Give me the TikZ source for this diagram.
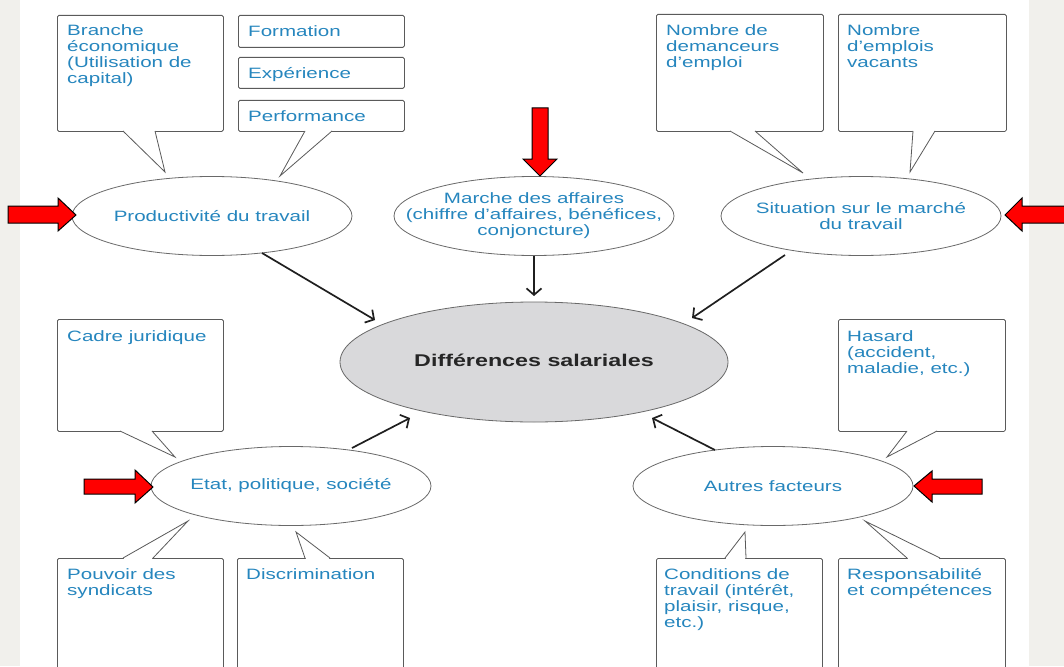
\documentclass[tikz,border=0pt]{standalone}
\usepackage{fontspec}
\setmainfont{Liberation Sans}
\newfontfamily\dfont[FakeStretch=1.37]{Liberation Sans}
\usetikzlibrary{shapes.geometric,arrows.meta}
\definecolor{bgside}{RGB}{241,240,236}
\definecolor{txtblue}{RGB}{38,134,190}
\definecolor{boxgray}{RGB}{90,90,90}
\definecolor{ellgray}{RGB}{105,105,105}
\definecolor{centerfill}{RGB}{217,217,219}
\newcommand\fl{\rule{0pt}{14pt}}
\newcommand\ptr[3]{%
  \draw[white, line width=2.2pt, shorten <=1pt, shorten >=1pt] #1 -- #2;
  \draw[pline] #1 -- #3 -- #2;}
\begin{document}
\begin{tikzpicture}[x=1pt,y=-1pt,
  cbox/.style={draw=boxgray, line width=0.8pt, fill=white, rounded corners=1.5pt, inner sep=0pt, anchor=north west},
  btxt/.style={anchor=north west, inner sep=0pt, align=left, text=txtblue, font=\dfont\fontsize{15}{16}\selectfont},
  ell/.style={ellipse, draw=ellgray, line width=0.8pt, fill=white, inner sep=0pt, minimum width=280pt, minimum height=79pt},
  etxt/.style={inner sep=0pt, align=center, text=txtblue, font=\dfont\fontsize{15}{16}\selectfont},
  pline/.style={draw=boxgray, line width=0.8pt, fill=white, line join=miter},
  conn/.style={draw=black!88, line width=1.7pt, -{Straight Barb[length=6.5pt,width=15pt]}},
  redarr/.style={fill=red, draw=black, line width=1pt, line join=miter}]
\useasboundingbox (0,0) rectangle (1064,666);
\clip (0,0) rectangle (1064,666);
\fill[bgside] (0,0) rectangle (1064,666);
\fill[white] (20,0) rectangle (1029,666);

% boxes
\node[cbox, minimum width=166pt, minimum height=116pt] (branche) at (57,15) {};
\node[cbox, minimum width=166pt, minimum height=32pt] (form) at (238,15) {};
\node[cbox, minimum width=166pt, minimum height=31pt] (exp) at (238,57) {};
\node[cbox, minimum width=166pt, minimum height=31pt] (perf) at (238,100) {};
\node[cbox, minimum width=167pt, minimum height=117pt] (dem) at (656,14) {};
\node[cbox, minimum width=168pt, minimum height=117pt] (vac) at (838,14) {};
\node[cbox, minimum width=166pt, minimum height=112pt] (cadre) at (57,319) {};
\node[cbox, minimum width=167pt, minimum height=112pt] (hasard) at (838,319) {};
\node[cbox, minimum width=166pt, minimum height=130pt] (pouv) at (57,558) {};
\node[cbox, minimum width=166pt, minimum height=130pt] (discr) at (237,558) {};
\node[cbox, minimum width=166pt, minimum height=130pt] (cond) at (656,558) {};
\node[cbox, minimum width=167pt, minimum height=130pt] (resp) at (838,558) {};

% pointers
\ptr{(123,131)}{(155,131)}{(165,172)}
\ptr{(305,131)}{(332,131)}{(280,176)}
\ptr{(730,131)}{(755,131)}{(803,173)}
\ptr{(913,131)}{(935,131)}{(910,172)}
\ptr{(120,431)}{(152,431)}{(175,457)}
\ptr{(123,558)}{(153,558)}{(188,521)}
\ptr{(305,558)}{(330,558)}{(296,532)}
\ptr{(907,431)}{(937,431)}{(887,457)}
\ptr{(725,558)}{(746,558)}{(745,532)}
\ptr{(907,558)}{(940,558)}{(865,521)}

% box texts
\node[btxt] (tbranche) at (67,21) {\fl Branche\\économique\\(Utilisation de\\capital)};
\node[btxt] (tform) at (248,22) {\fl Formation};
\node[btxt] (texp) at (248,64) {\fl Expérience};
\node[btxt] (tperf) at (248,107) {\fl Performance};
\node[btxt] (tdem) at (666,21) {\fl Nombre de\\demanceurs\\d’emploi};
\node[btxt] (tvac) at (847,21) {\fl Nombre\\d’emplois\\vacants};
\node[btxt] (tcadre) at (67,327) {\fl Cadre juridique};
\node[btxt] (thasard) at (847,327) {\fl Hasard\\(accident,\\maladie, etc.)};
\node[btxt] (tpouv) at (67,565) {\fl Pouvoir des\\syndicats};
\node[btxt] (tdiscr) at (246,565) {\fl Discrimination};
\node[btxt] (tcond) at (664,565) {\fl Conditions de\\travail (intérêt,\\plaisir, risque,\\etc.)};
\node[btxt] (tresp) at (847,565) {\fl Responsabilité\\et compétences};

% ellipses
\node[ell] (prod) at (212,216) {};
\node[etxt] (tprod) at (prod.center) {Productivité du travail};
\node[ell] (marche) at (534,216) {};
\node[etxt] (tmarche) at (marche.center) {Marche des affaires\\(chiffre d’affaires, bénéfices,\\conjoncture)};
\node[ell] (sit) at (861,216) {};
\node[etxt] (tsit) at (sit.center) {Situation sur le marché\\du travail};
\node[ell] (etat) at (291,486) {};
\node[etxt] (tetat) at (etat.center) {Etat, politique, société};
\node[ell] (autres) at (773,486) {};
\node[etxt] (tautres) at (autres.center) {Autres facteurs};
\node[ell, minimum width=388pt, minimum height=120pt, fill=centerfill] (diff) at (534,362) {};
\node[inner sep=0pt, text=black!85, font=\dfont\bfseries\fontsize{17}{20}\selectfont] (tdiff) at ([shift={(0,-2)}]diff.center) {Différences salariales};

% connectors
\draw[conn] ([shift={(50,37)}]prod.center) -- ([shift={(-159,-42)}]diff.center);
\draw[conn] (marche.south) -- ([shift={(0,-66)}]diff.center);
\draw[conn] ([shift={(-76,39)}]sit.center) -- ([shift={(158,-44)}]diff.center);
\draw[conn] ([shift={(61,-38)}]etat.center) -- ([shift={(-124,56)}]diff.center);
\draw[conn] ([shift={(-58,-36)}]autres.center) -- ([shift={(118,56)}]diff.center);

% red arrows
\draw[redarr] (76,215) -- (58,198) -- (58,206) -- (8,206) -- (8,223) -- (58,223) -- (58,231) -- cycle;
\draw[redarr] (540,176) -- (523,159) -- (532,159) -- (532,108) -- (548,108) -- (548,159) -- (557,159) -- cycle;
\draw[redarr] (1005,215) -- (1022,198) -- (1022,206) -- (1070,206) -- (1070,223) -- (1022,223) -- (1022,231) -- cycle;
\draw[redarr] (153,487) -- (135,470) -- (135,479) -- (84,479) -- (84,494) -- (135,494) -- (135,503) -- cycle;
\draw[redarr] (914,486) -- (932,471) -- (932,479) -- (982,479) -- (982,494) -- (932,494) -- (932,502) -- cycle;
\end{tikzpicture}
\end{document}
